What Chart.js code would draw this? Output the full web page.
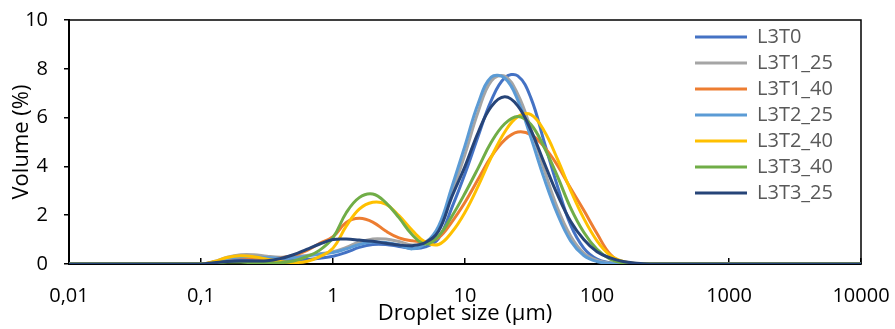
<!DOCTYPE html>
<html>
<head>
<meta charset="utf-8">
<script src="https://cdn.jsdelivr.net/npm/chart.js@4.4.0/dist/chart.umd.min.js"></script>
<style>
html,body{margin:0;padding:0;background:#fff;}
#wrap{width:895px;height:329px;position:relative;}
</style>
</head>
<body>
<div id="wrap"><canvas id="c" width="895" height="329"></canvas></div>
<script>
// Droplet sizes (µm)
const sizes = [0.01, 0.1, 0.126, 0.158, 0.2, 0.251, 0.316, 0.398, 0.501, 0.631, 0.794,
  1, 1.26, 1.58, 2, 2.51, 3.16, 3.98, 5.01, 6.31, 7.94,
  10, 12.6, 15.8, 20, 25.1, 31.6, 39.8, 50.1, 63.1, 79.4,
  100, 126, 158, 200, 251, 10000];

const xTickValues = [0.01, 0.1, 1, 10, 100, 1000, 10000];
const xTickLabels = ['0,01', '0,1', '1', '10', '100', '1000', '10000'];
const yTickValues = [0, 2, 4, 6, 8, 10];

const seriesNames = ['L3T0', 'L3T1_25', 'L3T1_40', 'L3T2_25', 'L3T2_40', 'L3T3_40', 'L3T3_25'];
const seriesColors = ['#4472C4', '#A5A5A5', '#ED7D31', '#5B9BD5', '#FFC000', '#70AD47', '#264478'];

// Volume (%) per size
const L3T0 = [0, 0, 0.05, 0.15, 0.2, 0.2, 0.17, 0.14, 0.14, 0.18, 0.24,
  0.32, 0.48, 0.68, 0.8, 0.8, 0.72, 0.64, 0.7, 1.05, 2.3,
  3.7, 5.25, 6.7, 7.63, 7.71, 6.8, 5.0, 3.2, 1.6, 0.65,
  0.2, 0.05, 0, 0, 0, 0];
const L3T1_25 = [0, 0, 0.1, 0.28, 0.38, 0.38, 0.32, 0.28, 0.3, 0.35, 0.42,
  0.5, 0.68, 0.9, 1.03, 1.02, 0.92, 0.78, 0.9, 1.45, 2.9,
  4.5, 6.25, 7.5, 7.7, 6.96, 5.53, 3.86, 2.3, 1.15, 0.45,
  0.15, 0.04, 0, 0, 0, 0];
const L3T1_40 = [0, 0, 0.08, 0.22, 0.28, 0.25, 0.22, 0.25, 0.35, 0.55, 0.85,
  1.12, 1.7, 1.87, 1.72, 1.35, 1.07, 0.95, 0.92, 1.08, 1.72,
  2.53, 3.48, 4.4, 5.09, 5.41, 5.3, 4.8, 4.05, 3.1, 2.2,
  1.25, 0.4, 0.05, 0, 0, 0];
const L3T2_25 = [0, 0, 0.08, 0.22, 0.3, 0.3, 0.26, 0.24, 0.26, 0.32, 0.4,
  0.47, 0.62, 0.8, 0.9, 0.88, 0.78, 0.62, 0.85, 1.55, 3.15,
  4.85, 6.59, 7.66, 7.62, 6.72, 5.17, 3.5, 2.05, 0.95, 0.35,
  0.1, 0.02, 0, 0, 0, 0];
const L3T2_40 = [0, 0, 0.1, 0.27, 0.34, 0.3, 0.2, 0.1, 0.06, 0.1, 0.3,
  0.65, 1.55, 2.25, 2.53, 2.45, 1.98, 1.38, 0.9, 0.8, 1.3,
  2.12, 3.2, 4.37, 5.41, 6.04, 6.12, 5.45, 4.31, 3.02, 1.87,
  0.95, 0.35, 0.1, 0.02, 0, 0];
const L3T3_40 = [0, 0, 0.04, 0.08, 0.08, 0.05, 0.03, 0.05, 0.12, 0.3, 0.57,
  1.08, 2.1, 2.72, 2.87, 2.52, 1.9, 1.2, 0.82, 1.15, 1.95,
  2.9, 3.94, 4.99, 5.75, 6.05, 5.72, 4.78, 3.6, 2.3, 1.3,
  0.6, 0.2, 0.05, 0, 0, 0];
const L3T3_25 = [0, 0, 0.05, 0.1, 0.12, 0.12, 0.13, 0.22, 0.38, 0.6, 0.82,
  1.0, 1.02, 0.98, 0.93, 0.85, 0.78, 0.75, 0.88, 1.35, 2.75,
  4.0, 5.4, 6.45, 6.85, 6.48, 5.48, 4.15, 2.85, 1.75, 1.0,
  0.5, 0.25, 0.1, 0.03, 0, 0];

const seriesValues = [L3T0, L3T1_25, L3T1_40, L3T2_25, L3T2_40, L3T3_40, L3T3_25];

const FONT = "'Open Sans', 'Noto Sans', 'DejaVu Sans', sans-serif";

const datasets = seriesNames.map((name, i) => ({
  label: name,
  data: sizes.map((x, j) => ({ x: x, y: seriesValues[i][j] })),
  borderColor: seriesColors[i],
  backgroundColor: seriesColors[i],
  borderWidth: 3,
  borderCapStyle: 'round',
  pointRadius: 0,
  pointHoverRadius: 0,
  tension: 0.4,
  fill: false,
  order: seriesNames.length - i
}));

const framePlugin = {
  id: 'frame',
  beforeDatasetsDraw(chart) {
    const { ctx, chartArea: a } = chart;
    ctx.save();
    ctx.strokeStyle = '#000';
    ctx.lineWidth = 1.5;
    ctx.beginPath();
    ctx.moveTo(a.left, a.top);
    ctx.lineTo(a.right, a.top);
    ctx.lineTo(a.right, a.bottom);
    ctx.stroke();
    ctx.restore();
  }
};

const legendPosPlugin = {
  id: 'legendPos',
  afterLayout(chart) {
    const l = chart.legend;
    if (!l) return;
    const w = l.width, h = l.height;
    l.left = 689;
    l.top = 21;
    l.right = l.left + w;
    l.bottom = l.top + h;
  }
};

new Chart(document.getElementById('c'), {
  type: 'line',
  data: { datasets: datasets },
  options: {
    responsive: false,
    animation: false,
    devicePixelRatio: 1,
    layout: { padding: { left: 0, right: 34, top: 20, bottom: 0 } },
    plugins: {
      legend: {
        display: true,
        position: 'chartArea',
        fullSize: false,
        align: 'start',
        labels: {
          usePointStyle: true,
          pointStyle: 'line',
          pointStyleWidth: 52,
          color: '#595959',
          font: { family: FONT, size: 20 },
          padding: 6,
          sort: (a, b) => a.datasetIndex - b.datasetIndex
        }
      },
      tooltip: { enabled: false }
    },
    scales: {
      x: {
        type: 'logarithmic',
        position: 'bottom',
        min: 0.01,
        max: 10000,
        afterBuildTicks: (s) => { s.ticks = xTickValues.map(v => ({ value: v })); },
        afterFit: (s) => { s.height = 65; s.paddingLeft = 0; s.paddingRight = 0; },
        ticks: {
          autoSkip: false,
          maxRotation: 0,
          color: '#000',
          font: { family: FONT, size: 20 },
          padding: 26,
          callback: (v, i) => xTickLabels[i]
        },
        grid: { display: true, drawOnChartArea: false, drawTicks: true, tickLength: -6, color: '#000', lineWidth: 1.5 },
        border: { display: true, color: '#000', width: 2 },
        title: { display: true, text: 'Droplet size (µm)', color: '#000', font: { family: FONT, size: 22 }, padding: { top: 0, bottom: 2 } }
      },
      y: {
        position: 'left',
        min: 0,
        max: 10,
        afterBuildTicks: (s) => { s.ticks = yTickValues.map(v => ({ value: v })); },
        afterFit: (s) => { s.width = 69; s.paddingTop = 0; s.paddingBottom = 0; },
        ticks: {
          color: '#000',
          font: { family: FONT, size: 20 },
          padding: 16
        },
        grid: { display: true, drawOnChartArea: false, drawTicks: true, tickLength: 5, color: '#000', lineWidth: 1.5 },
        border: { display: true, color: '#000', width: 2 },
        title: { display: true, text: 'Volume (%)', color: '#000', font: { family: FONT, size: 22 }, padding: { top: 9, bottom: 0 } }
      }
    }
  },
  plugins: [framePlugin, legendPosPlugin]
});
</script>
</body>
</html>
